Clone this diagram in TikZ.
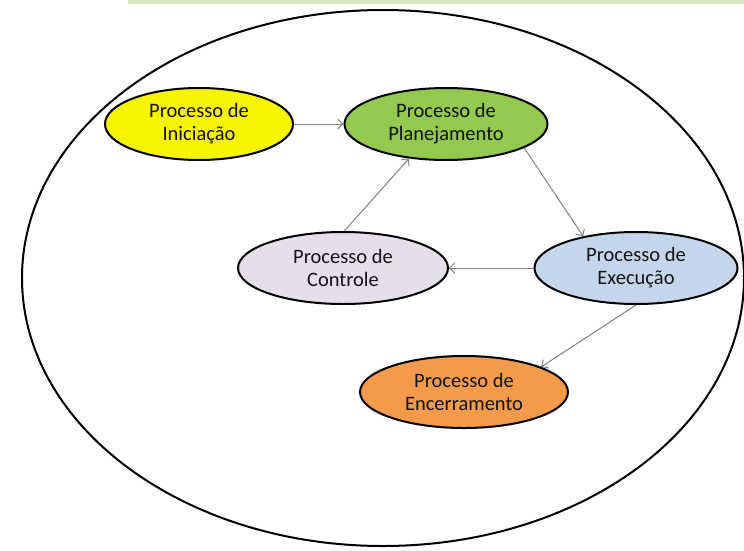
\documentclass[tikz,border=0pt]{standalone}
\usepackage{fontspec}
\setmainfont{Carlito}
\usetikzlibrary{shapes.geometric,arrows.meta}
\definecolor{iniYellow}{HTML}{F7F400}
\definecolor{plaGreen}{HTML}{92C94E}
\definecolor{conLilac}{HTML}{E4DFEB}
\definecolor{exeBlue}{HTML}{C4D6EC}
\definecolor{encOrange}{HTML}{F49A4B}
\definecolor{topStrip}{HTML}{D7E4BD}
\begin{document}
\begin{tikzpicture}[x=1pt,y=-1pt,
	proc/.style={ellipse, draw=black, line width=2pt, inner sep=0pt,
		minimum height=72pt, align=center, text=black!92,
		font=\fontsize{20.5}{23}\selectfont},
	link/.style={draw=black!50, line width=1pt, -{Straight Barb[length=5pt,width=10pt]}}]
	\useasboundingbox (0,0) rectangle (744,550);
	\fill[topStrip] (128,0) rectangle (744,3.5);
	\draw[line width=2pt] (383,278) ellipse [x radius=361, y radius=268];
	\node (I) at (199,124)	[proc, fill = iniYellow, minimum width=188pt]	{Processo de\\Iniciação};
	\node (P) at (446,124)	[proc, fill = plaGreen, minimum width=203pt]	{Processo de\\Planejamento};
	\node (C) at (343,268)	[proc, fill = conLilac, minimum width=210pt]	{Processo de\\Controle};
	\node (E) at (636,268)	[proc, fill = exeBlue, minimum width=203pt]	{Processo de\\Execução};
	\node (F) at (464,392)	[proc, fill = encOrange, minimum width=208pt]	{Processo de\\Encerramento};
	\draw[link] (I.east) -- (P.west);
	\draw[link] (P.343) -- (E.149);
	\draw[link] (E.west) -- (C.east);
	\draw[link] (C.88) -- (P.223);
	\draw[link] (E.south) -- (F.18);
\end{tikzpicture}
\end{document}
